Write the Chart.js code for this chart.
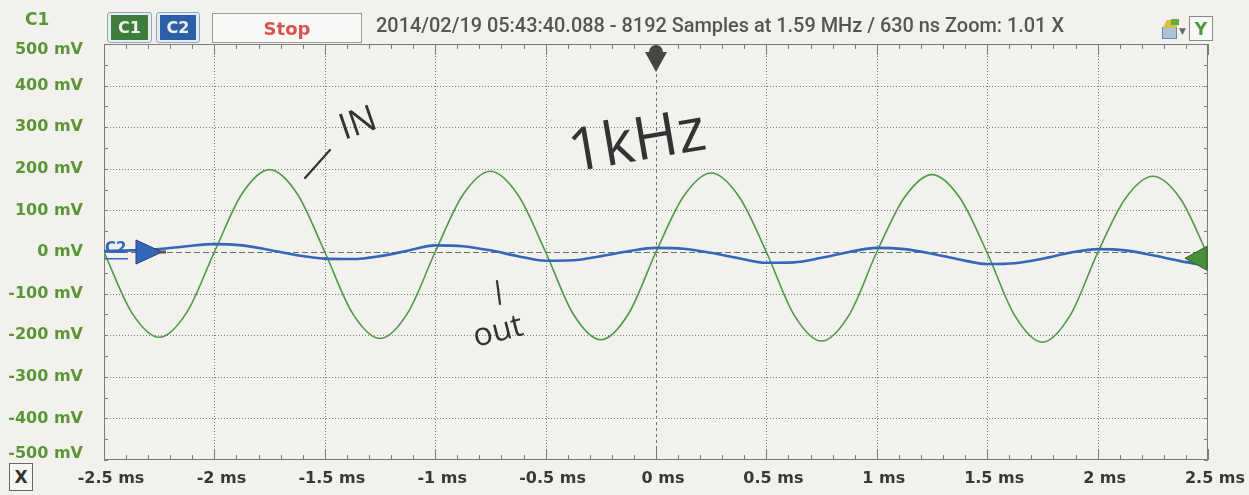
<!DOCTYPE html>
<html>
<head>
<meta charset="utf-8">
<script src="https://cdn.jsdelivr.net/npm/chart.js@4.4.1/dist/chart.umd.min.js"></script>
<style>
  html, body { margin: 0; padding: 0; background: #f2f1ed; }
  #wrap { position: relative; width: 1249px; height: 495px; overflow: hidden; background: #f2f1ed; }
  #c { position: absolute; left: 0; top: 0; }
  .abs { position: absolute; box-sizing: border-box; font-family: "DejaVu Sans", sans-serif; }
  .btn { border: 1px solid #8ea6be; border-radius: 3px; background: #e6ecf1; }
  .btnIn { display: flex; align-items: center; justify-content: center; color: #eef3ea; font-weight: bold; font-size: 16px; }
</style>
</head>
<body>
<div id="wrap">
  <canvas id="c" width="1249" height="495"></canvas>

  <div class="abs" style="left:25px;top:9px;color:#5a9636;font-weight:bold;font-size:17px;">C1</div>
  <div class="abs btn" style="left:107px;top:12px;width:45px;height:31px;"></div>
  <div class="abs btnIn" style="left:111px;top:15px;width:37px;height:25px;background:#3f7d3b;">C1</div>
  <div class="abs btn" style="left:156px;top:12px;width:44px;height:31px;"></div>
  <div class="abs btnIn" style="left:160px;top:15px;width:36px;height:25px;background:#2d5ea8;">C2</div>
  <div class="abs" style="left:212px;top:13px;width:150px;height:30px;border:1px solid #9a9a9a;background:#f8f8f6;display:flex;align-items:center;justify-content:center;color:#d9534f;font-weight:bold;font-size:18px;">Stop</div>
  <div id="title" class="abs" style="left:376px;top:14px;color:#555;font-family:Roboto,sans-serif;font-weight:500;font-size:16px;white-space:nowrap;">2014/02/19 05:43:40.088 - 8192 Samples at 1.59 MHz / 630 ns Zoom: 1.01 X</div>

  <div class="abs" style="left:1162px;top:27px;width:15px;height:12px;background:#a9c3dc;border:1px solid #6f8aa8;"></div>
  <div class="abs" style="left:1165px;top:20px;width:13px;height:8px;background:#d9c23a;transform:skewX(-25deg);"></div>
  <div class="abs" style="left:1171px;top:19px;width:8px;height:6px;background:#6aa84a;"></div>
  <div class="abs" style="left:1179px;top:26px;color:#666;font-size:9px;">&#9660;</div>
  <div class="abs" style="left:1189px;top:16px;width:24px;height:25px;border:1px solid #8a8a8a;background:#f8f8f6;display:flex;align-items:center;justify-content:center;color:#4f9a3a;font-weight:bold;font-size:17px;">Y</div>

  <div class="abs" style="left:9px;top:463px;width:24px;height:28px;border:1px solid #6a6a6a;background:#f6f6f4;display:flex;align-items:center;justify-content:center;color:#333;font-weight:bold;font-size:17px;">X</div>
</div>

<script>
const timeMs = [
  -2.5, -2.375, -2.25, -2.125, -2.0, -1.875, -1.75, -1.625, -1.5, -1.375, -1.25,
  -1.125, -1.0, -0.875, -0.75, -0.625, -0.5, -0.375, -0.25, -0.125, 0,
  0.125, 0.25, 0.375, 0.5, 0.625, 0.75, 0.875, 1.0, 1.125, 1.25,
  1.375, 1.5, 1.625, 1.75, 1.875, 2.0, 2.125, 2.25, 2.375, 2.5
];
const inputMv = [
  0, -145, -205, -145, 0, 140, 198, 140, 0, -147, -208,
  -147, 0, 137, 194, 137, 0, -149, -211, -149, 0,
  134, 190, 134, 0, -151, -214, -151, 0, 131, 186,
  131, -2, -153, -217, -153, -2, 128, 182, 128, -8
];
const outputMv = [
  2, 4, 7, 14, 19, 16, 5, -8, -16, -17, -10,
  3, 16, 14, 4, -10, -21, -20, -10, 2, 10,
  8, -2, -15, -26, -25, -14, 0, 10, 7, -4,
  -18, -29, -27, -16, -2, 7, 4, -8, -22, -33
];

const xTickValues = [-2.5, -2, -1.5, -1, -0.5, 0, 0.5, 1, 1.5, 2, 2.5];
const xTickLabels = ['-2.5 ms', '-2 ms', '-1.5 ms', '-1 ms', '-0.5 ms', '0 ms', '0.5 ms', '1 ms', '1.5 ms', '2 ms', '2.5 ms'];
const yTickValues = [-500, -400, -300, -200, -100, 0, 100, 200, 300, 400, 500];
const yTickLabels = ['-500 mV', '-400 mV', '-300 mV', '-200 mV', '-100 mV', '0 mV', '100 mV', '200 mV', '300 mV', '400 mV', '500 mV'];

const green = '#4f9a48';
const blue = '#3467b8';

// squeeze the header text to the width it has on the capture
const title = document.getElementById('title');
title.style.fontSize = (16 * 688 / title.offsetWidth).toFixed(2) + 'px';

function seg(ctx, x1, y1, x2, y2) {
  ctx.beginPath();
  ctx.moveTo(x1, y1);
  ctx.lineTo(x2, y2);
  ctx.stroke();
}

const scopeDecor = {
  id: 'scopeDecor',
  beforeDatasetsDraw(chart) {
    const { ctx, chartArea: a, scales: { x, y } } = chart;
    ctx.save();
    ctx.lineWidth = 1;

    // dotted graticule
    ctx.strokeStyle = '#7e7e7e';
    ctx.setLineDash([1, 2]);
    x.ticks.forEach(t => {
      if (t.value === 0 || t.value === x.min || t.value === x.max) return;
      const px = Math.round(x.getPixelForValue(t.value)) + 0.5;
      seg(ctx, px, a.top, px, a.bottom);
    });
    y.ticks.forEach(t => {
      if (t.value === 0 || t.value === y.min || t.value === y.max) return;
      const py = Math.round(y.getPixelForValue(t.value)) + 0.5;
      seg(ctx, a.left, py, a.right, py);
    });

    // centre lines
    ctx.strokeStyle = '#707070';
    ctx.setLineDash([6, 3]);
    const y0 = Math.round(y.getPixelForValue(0)) + 0.5;
    seg(ctx, a.left, y0, a.right, y0);
    ctx.setLineDash([3, 3]);
    const x0 = Math.round(x.getPixelForValue(0)) + 0.5;
    seg(ctx, x0, a.top, x0, a.bottom);

    // frame + edge ticks
    ctx.setLineDash([]);
    ctx.strokeStyle = '#7c7c7c';
    ctx.strokeRect(a.left + 0.5, a.top + 0.5, a.width - 1, a.height - 1);
    for (let i = -25; i <= 25; i++) {
      const px = Math.round(x.getPixelForValue(i / 10)) + 0.5;
      const len = i % 5 === 0 ? 11 : 5;
      seg(ctx, px, a.top, px, a.top + len);
      seg(ctx, px, a.bottom, px, a.bottom - len);
    }
    for (let i = -10; i <= 10; i++) {
      const py = Math.round(y.getPixelForValue(i * 50)) + 0.5;
      seg(ctx, a.left, py, a.left + 4, py);
      seg(ctx, a.right, py, a.right - 4, py);
    }
    ctx.restore();
  },
  afterDatasetsDraw(chart) {
    const { ctx, chartArea: a, scales: { x, y } } = chart;
    ctx.save();

    // trigger marker
    const tx = x.getPixelForValue(0);
    ctx.fillStyle = '#454545';
    ctx.beginPath();
    ctx.arc(tx, a.top + 8, 7, Math.PI, 0);
    ctx.lineTo(tx + 11, a.top + 8);
    ctx.lineTo(tx, a.top + 28);
    ctx.lineTo(tx - 11, a.top + 8);
    ctx.closePath();
    ctx.fill();

    // C2 reference marker
    const cy = y.getPixelForValue(0);
    ctx.fillStyle = blue;
    ctx.strokeStyle = '#1f3f78';
    ctx.beginPath();
    ctx.moveTo(a.left + 32, cy - 12);
    ctx.lineTo(a.left + 58, cy);
    ctx.lineTo(a.left + 32, cy + 12);
    ctx.closePath();
    ctx.fill();
    ctx.stroke();
    ctx.fillStyle = '#555';
    ctx.fillRect(a.left + 54, cy - 1.5, 8, 3);
    ctx.fillStyle = blue;
    ctx.font = 'bold 15px "DejaVu Sans"';
    ctx.textBaseline = 'middle';
    ctx.fillText('C2', a.left + 1, cy - 3);
    ctx.fillRect(a.left + 1, cy + 6, 23, 1.5);

    // C1 level marker on the right edge
    const gy = y.getPixelForValue(-15);
    ctx.fillStyle = '#4a8f3c';
    ctx.strokeStyle = '#2f5c26';
    ctx.beginPath();
    ctx.moveTo(a.right - 1, gy - 12);
    ctx.lineTo(a.right - 23, gy);
    ctx.lineTo(a.right - 1, gy + 12);
    ctx.closePath();
    ctx.fill();
    ctx.stroke();

    // handwritten notes on the printout
    ctx.strokeStyle = '#333';
    ctx.fillStyle = '#333';
    ctx.lineWidth = 2.2;
    ctx.lineCap = 'round';
    seg(ctx, 305, 178, 330, 150);
    seg(ctx, 497, 281, 500, 304);
    ctx.textBaseline = 'alphabetic';
    const note = (txt, px, py, size, rot) => {
      ctx.save();
      ctx.translate(px, py);
      ctx.rotate(rot);
      ctx.font = '400 ' + size + 'px "Open Sans"';
      ctx.fillText(txt, 0, 0);
      ctx.restore();
    };
    note('IN', 344, 140, 36, -0.33);
    note('1kHz', 572, 172, 60, -0.17);
    note('out', 476, 347, 32, -0.25);
    ctx.restore();
  }
};

new Chart(document.getElementById('c'), {
  type: 'line',
  data: {
    datasets: [
      {
        label: 'C1',
        data: timeMs.map((t, i) => ({ x: t, y: inputMv[i] })),
        borderColor: green,
        borderWidth: 1.6,
        pointRadius: 0,
        cubicInterpolationMode: 'monotone',
        order: 1
      },
      {
        label: 'C2',
        data: timeMs.map((t, i) => ({ x: t, y: outputMv[i] })),
        borderColor: blue,
        borderWidth: 2.6,
        pointRadius: 0,
        cubicInterpolationMode: 'monotone',
        order: 0
      }
    ]
  },
  options: {
    responsive: false,
    animation: false,
    events: [],
    layout: { padding: { top: 44, right: 41, bottom: 0, left: 0 } },
    plugins: { legend: { display: false }, tooltip: { enabled: false } },
    scales: {
      x: {
        type: 'linear',
        min: -2.5,
        max: 2.5,
        afterBuildTicks: s => { s.ticks = xTickValues.map(v => ({ value: v })); },
        afterFit: s => { s.height = 35; },
        grid: { display: false, drawTicks: false },
        border: { display: false },
        ticks: {
          autoSkip: false,
          maxRotation: 0,
          padding: 9,
          labelOffset: 7,
          color: '#383838',
          font: { family: 'DejaVu Sans', size: 16, weight: 'bold' },
          callback: v => xTickLabels[xTickValues.indexOf(v)]
        }
      },
      y: {
        type: 'linear',
        min: -500,
        max: 500,
        afterBuildTicks: s => { s.ticks = yTickValues.map(v => ({ value: v })); },
        afterFit: s => { s.width = 104; },
        grid: { display: false, drawTicks: false },
        border: { display: false },
        ticks: {
          autoSkip: false,
          padding: 21,
          color: '#5a9636',
          font: { family: 'DejaVu Sans', size: 16, weight: 'bold', lineHeight: 0.75 },
          callback: v => {
            const lab = yTickLabels[yTickValues.indexOf(v)];
            if (v === 500) return ['', lab];
            if (v === -500) return [lab, ''];
            return lab;
          }
        }
      }
    }
  },
  plugins: [scopeDecor]
});
</script>
</body>
</html>
